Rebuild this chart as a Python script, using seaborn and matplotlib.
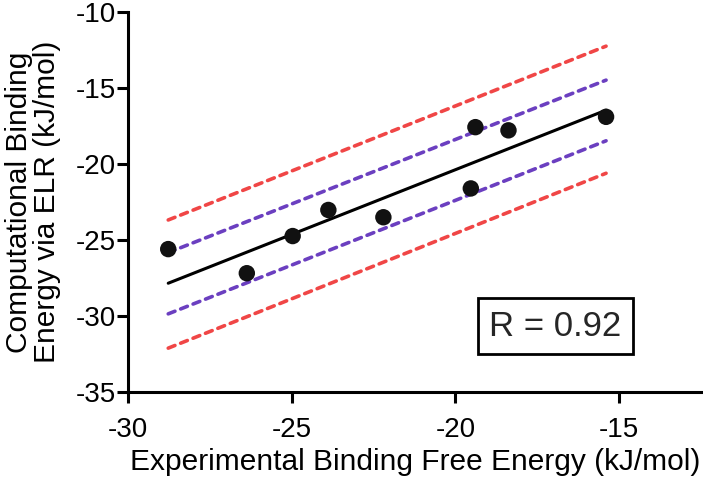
import numpy as np
import pandas as pd
import seaborn as sns
import matplotlib.pyplot as plt

# Experimental vs computational binding energies (kJ/mol)
exp_energy = [-28.77, -26.37, -24.97, -23.88, -22.2, -19.53, -19.39, -18.38, -15.4]
comp_energy = [-25.6, -27.19, -24.74, -23.02, -23.5, -21.6, -17.56, -17.77, -16.88]

# Fit line and bands, read at the two ends of the data range
fit_x = [-28.77, -15.4]
fit_y = [-27.85, -16.44]
inner_upper = [-25.83, -14.46]
inner_lower = [-29.87, -18.46]
outer_upper = [-23.68, -12.22]
outer_lower = [-32.13, -20.6]

x_ticks = [-30, -25, -20, -15]
y_ticks = [-35, -30, -25, -20, -15, -10]
r_value = 0.92

df = pd.DataFrame({'Exp': exp_energy, 'Comp': comp_energy})

sns.set_style('ticks')
plt.rcParams['font.family'] = ['Liberation Sans', 'DejaVu Sans']
plt.rcParams['axes.unicode_minus'] = False

fig = plt.figure(figsize=(7.03, 4.80), dpi=100)
ax = fig.add_axes([0.182, 0.184, 0.818, 0.790])

dash = dict(linestyle=(0, (2.0, 1.7)), linewidth=2.6, dash_capstyle='round')
for band, color in [(outer_upper, '#F04646'), (outer_lower, '#F04646'),
                    (inner_upper, '#6B3FC0'), (inner_lower, '#6B3FC0')]:
    sns.lineplot(x=fit_x, y=band, color=color, ax=ax, **dash)

sns.lineplot(x=fit_x, y=fit_y, color='black', linewidth=2.2, ax=ax)
sns.scatterplot(data=df, x='Exp', y='Comp', color='#111111', s=140,
                edgecolor='none', ax=ax, zorder=5)

ax.set_xlim(-30, -12.44)
ax.set_ylim(-35, -10)
ax.set_xticks(x_ticks)
ax.set_yticks(y_ticks)
sns.despine(ax=ax)
for side in ['left', 'bottom']:
    ax.spines[side].set_linewidth(2.2)
    ax.spines[side].set_color('black')
ax.tick_params(axis='both', width=2.2, length=8, labelsize=20, colors='black')
ax.tick_params(axis='y', pad=0.5)
ax.tick_params(axis='x', pad=10)

ax.set_xlabel('Experimental Binding Free Energy (kJ/mol)', fontsize=21.5,
              labelpad=4, color='black')
ax.set_ylabel('Computational Binding\nEnergy via ELR (kJ/mol)', fontsize=21.5,
              labelpad=11, linespacing=1.0, color='black')

ax.text(0.743, 0.173, 'R = %.2f' % r_value, transform=ax.transAxes, fontsize=25,
        ha='center', va='center',
        bbox=dict(boxstyle='square,pad=0.33', facecolor='white',
                  edgecolor='black', linewidth=2.0))

fig.savefig('out.png', dpi=100)
